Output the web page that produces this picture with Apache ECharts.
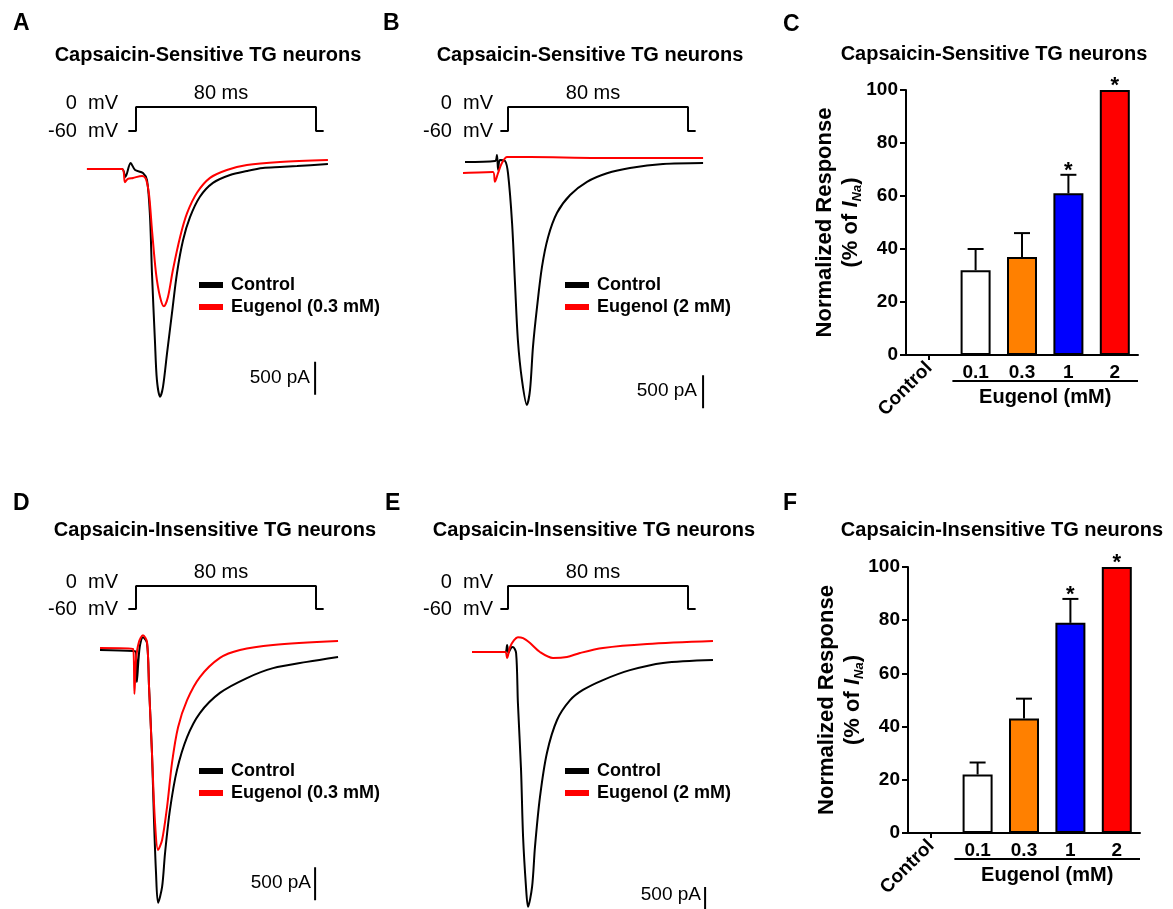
<!DOCTYPE html>
<html>
<head>
<meta charset="utf-8">
<title>Eugenol inhibits INa in TG neurons</title>
<script src="https://cdn.jsdelivr.net/npm/echarts@6.0.0/dist/echarts.min.js"></script>
<style>
  html, body { margin: 0; padding: 0; background: #fff; }
  #chart { width: 1173px; height: 909px; }
</style>
</head>
<body>
<div id="chart"></div>
<script>
// ---------- data (time in ms from step onset, current in pA) ----------
const stepT = [-3.4, 0, 0, 80, 80, 83.4];
const stepV = [-60, -60, 0, 0, -60, -60];

// A: capsaicin-sensitive, 0.3 mM
const traceACtrl = [[-21.8,0],[-6.2,0],[-4.7,-120],[-2.4,90],[-0.4,-15],[3.1,-60],[4.9,-170],[6.2,-700],[7.1,-1580],[8.4,-2590],[9.3,-3200],[10.7,-3450],[12.0,-3300],[13.8,-2790],[16.0,-2180],[18.2,-1580],[20.9,-1080],[24.0,-730],[28.4,-420],[34.2,-210],[41.8,-90],[49.3,-30],[56.4,15],[64.0,30],[71.6,45],[85.3,75]];
const traceAEug = [[-21.8,0],[-6.2,0],[-4.9,-200],[-3.6,-150],[-1.3,-135],[2.7,-105],[4.4,-150],[5.8,-390],[7.1,-920],[8.9,-1580],[10.7,-1940],[12.4,-2080],[14.2,-1940],[16.4,-1530],[19.6,-1030],[22.7,-670],[27.1,-360],[32.9,-135],[40.4,-15],[49.3,60],[64.0,105],[85.3,135]];
// B: capsaicin-sensitive, 2 mM
const traceBCtrl = [[-19.1,0],[-5.8,15],[-4.9,105],[-4.4,-120],[-3.6,30],[-1.3,15],[0,-170],[1.8,-920],[3.1,-1830],[4.4,-2700],[6.2,-3300],[8.4,-3680],[9.8,-3450],[11.1,-2800],[12.9,-2200],[15.1,-1590],[17.8,-1140],[21.8,-770],[27.6,-500],[35.1,-300],[44.0,-170],[54.2,-90],[68.9,-30],[86.7,-15]];
const traceBEug = [[-20,-165],[-6.7,-150],[-5.8,-300],[-4.4,-165],[-2.7,-15],[-0.4,75],[9.8,75],[39.6,60],[86.7,60]];
// D: capsaicin-insensitive, 0.3 mM
const traceDCtrl = [[-16,0],[-1.3,-15],[0,-30],[0.4,-485],[1.1,-150],[1.8,75],[3.1,195],[4.9,105],[5.8,-560],[7.1,-1560],[8.0,-2580],[8.9,-3380],[9.8,-3830],[11.6,-3590],[12.9,-3080],[15.1,-2420],[18.2,-1820],[22.7,-1320],[28.4,-955],[37.3,-650],[49.3,-425],[60.9,-275],[76.0,-180],[89.8,-105]];
const traceDEug = [[-16,30],[-1.3,15],[-0.7,-665],[0,-150],[1.3,120],[3.1,225],[4.9,120],[5.8,-560],[7.1,-1560],[8.4,-2580],[9.8,-3030],[11.6,-2880],[13.8,-2380],[16.0,-1710],[18.7,-1170],[22.7,-760],[28.4,-410],[37.3,-120],[46.2,0],[60.9,75],[89.8,135]];
// E: capsaicin-insensitive, 2 mM
const traceECtrl = [[-16,0],[-1.3,0],[-0.4,105],[0.2,-15],[1.3,60],[2.2,75],[3.6,-15],[4.4,-770],[5.8,-1790],[6.7,-2800],[8.0,-3560],[8.9,-3860],[10.7,-3560],[12.0,-2950],[14.2,-2200],[17.3,-1530],[21.8,-1030],[27.6,-730],[33.3,-575],[42.2,-425],[54.2,-275],[68.9,-165],[91.1,-120]];
const traceEEug = [[-16,0],[-1.3,0],[-0.4,-90],[0.9,75],[2.7,180],[4.4,225],[6.7,210],[9.8,135],[14.2,0],[20.0,-90],[26.2,-75],[32.0,-15],[42.2,60],[61.8,120],[91.1,165]];

// 500 pA scale bars
const scaleA = [[79.6,-2920],[79.6,-3420]];
const scaleB = [[86.7,-3230],[86.7,-3730]];
const scaleD = [[79.6,-3290],[79.6,-3790]];
const scaleE = [[87.6,-3560],[87.6,-4060]];

// bar charts (% of INa)
const doses = ['Control', '0.1', '0.3', '1', '2'];
const barColors = ['#ffffff', '#ffffff', '#ff8000', '#0000ff', '#ff0000'];
const sensMean = [null, 32, 37, 61, 100];
const sensSem = [null, 8, 9, 7, 0];
const sensStars = ['', '', '', '*', '*'];
const insMean = [null, 22, 43, 79, 100];
const insSem = [null, 4.5, 7.5, 9, 0];
const insStars = ['', '', '', '*', '*'];

// ---------- layout ----------
const W = 1173, H = 909;
const FONT = '"Liberation Sans", Arial, Helvetica, sans-serif';
const NARROW = '"Liberation Sans Narrow", "Liberation Sans", Arial, sans-serif';
const PX_MS = 2.25, PX_PA = 0.066;
const T_MIN = -22, T_MAX = 92, I_MIN = -4400, I_MAX = 600;

const tracePanels = [
  { onset: 136, base: 169, protoTop: 107, protoH: 24, ctrl: traceACtrl, eug: traceAEug, bar: scaleA,
    eugName: 'Eugenol (0.3 mM)', legend: [199, 276], mvRight: 118, sbLabel: [310, 378] },
  { onset: 508, base: 162, protoTop: 107, protoH: 24, ctrl: traceBCtrl, eug: traceBEug, bar: scaleB,
    eugName: 'Eugenol (2 mM)', legend: [565, 276], mvRight: 493, sbLabel: [697, 391] },
  { onset: 136, base: 650, protoTop: 586, protoH: 23, ctrl: traceDCtrl, eug: traceDEug, bar: scaleD,
    eugName: 'Eugenol (0.3 mM)', legend: [199, 762], mvRight: 118, sbLabel: [311, 883] },
  { onset: 508, base: 652, protoTop: 586, protoH: 23, ctrl: traceECtrl, eug: traceEEug, bar: scaleE,
    eugName: 'Eugenol (2 mM)', legend: [565, 762], mvRight: 493, sbLabel: [701, 895] }
];

const grids = [], xAxes = [], yAxes = [], series = [], legends = [], graphics = [];

function text(x, y, str, font, align) {
  graphics.push({ type: 'text', x: x, y: y, silent: true,
    style: { text: str, font: font, fill: '#000', align: align || 'left', verticalAlign: 'middle' } });
}

tracePanels.forEach(function (p, k) {
  const left = p.onset + T_MIN * PX_MS;
  const width = (T_MAX - T_MIN) * PX_MS;
  // keep the trace grid inside the canvas (echarts clamps it otherwise)
  const iMin = Math.max(I_MIN, -(H - 0.5 - p.base) / PX_PA);
  const gp = grids.length;
  grids.push({ left: left, top: p.protoTop, width: width, height: p.protoH });
  grids.push({ left: left, top: p.base - I_MAX * PX_PA, width: width, height: (I_MAX - iMin) * PX_PA });
  [gp, gp + 1].forEach(function (g) {
    xAxes.push({ gridIndex: g, type: 'value', min: T_MIN, max: T_MAX, show: false });
  });
  yAxes.push({ gridIndex: gp, type: 'value', min: -60, max: 0, show: false });
  yAxes.push({ gridIndex: gp + 1, type: 'value', min: iMin, max: I_MAX, show: false });

  const lineBase = { type: 'line', showSymbol: false, silent: true, animation: false };
  series.push(Object.assign({}, lineBase, {
    name: 'step' + k, xAxisIndex: gp, yAxisIndex: gp, color: '#000',
    lineStyle: { color: '#000', width: 2 },
    data: stepT.map(function (t, i) { return [t, stepV[i]]; })
  }));
  series.push(Object.assign({}, lineBase, {
    name: 'Control', xAxisIndex: gp + 1, yAxisIndex: gp + 1, color: '#000',
    smooth: 0.3, lineStyle: { color: '#000', width: 2 }, data: p.ctrl
  }));
  series.push(Object.assign({}, lineBase, {
    name: p.eugName, xAxisIndex: gp + 1, yAxisIndex: gp + 1, color: '#ff0000',
    smooth: 0.3, lineStyle: { color: '#ff0000', width: 2 }, data: p.eug
  }));
  series.push(Object.assign({}, lineBase, {
    name: 'scale' + k, xAxisIndex: gp + 1, yAxisIndex: gp + 1, color: '#000',
    lineStyle: { color: '#000', width: 2 }, data: p.bar
  }));

  legends.push({
    data: ['Control', p.eugName], orient: 'vertical', left: p.legend[0], top: p.legend[1],
    icon: 'rect', itemWidth: 24, itemHeight: 6, itemGap: 4, padding: 0, selectedMode: false,
    textStyle: { fontFamily: FONT, fontWeight: 'bold', fontSize: 18, color: '#000', padding: [0, 0, 0, 3] }
  });

  // protocol annotation
  text(p.mvRight, p.protoTop - 3.5, '0  mV', '20px ' + FONT, 'right');
  text(p.mvRight, p.protoTop + p.protoH + 0.5, '-60  mV', '20px ' + FONT, 'right');
  text(p.onset + 85, p.protoTop - 14, '80 ms', '20px ' + FONT, 'center');
  text(p.sbLabel[0], p.sbLabel[1], '500 pA', '19px ' + NARROW, 'right');
});

// ---------- bar charts ----------
function errRender(stars) {
  return function (params, api) {
    const i = api.value(0), m = api.value(1), e = api.value(2);
    const p0 = api.coord([i, m]), p1 = api.coord([i, m + e]);
    const st = { stroke: '#000', lineWidth: 2 };
    const ch = [];
    if (e > 0) {
      ch.push({ type: 'line', shape: { x1: p0[0], y1: p0[1], x2: p1[0], y2: p1[1] }, style: st });
      ch.push({ type: 'line', shape: { x1: p1[0] - 8, y1: p1[1], x2: p1[0] + 8, y2: p1[1] }, style: st });
    }
    if (stars[i]) {
      ch.push({ type: 'text', style: { text: stars[i], x: p1[0], y: p1[1] - 4, align: 'center',
        verticalAlign: 'middle', font: 'bold 22px ' + FONT, fill: '#000' } });
    }
    return { type: 'group', children: ch };
  };
}

const barPanels = [
  { left: 906, top: 90, width: 232, height: 265, mean: sensMean, sem: sensSem, stars: sensStars },
  { left: 908, top: 567, width: 232, height: 266, mean: insMean, sem: insSem, stars: insStars }
];

barPanels.forEach(function (b) {
  const g = grids.length;
  const xa = xAxes.length;
  const ya = yAxes.length;
  grids.push({ left: b.left, top: b.top, width: b.width, height: b.height });
  xAxes.push({
    gridIndex: g, type: 'category', data: doses,
    axisLine: { lineStyle: { color: '#000', width: 2 } }, axisTick: { show: false },
    axisLabel: { interval: 0, margin: 8, color: '#000', fontFamily: FONT, fontWeight: 'bold', fontSize: 19,
      formatter: function (v) { return v === 'Control' ? '' : v; } }
  });
  xAxes.push({
    gridIndex: g, type: 'category', data: doses, position: 'bottom',
    axisLine: { show: false },
    axisTick: { show: true, alignWithLabel: true, length: 5, interval: function (i) { return i === 0; },
      lineStyle: { color: '#000', width: 2 } },
    axisLabel: { interval: function (i) { return i === 0; }, rotate: 45, margin: 10, color: '#000',
      fontFamily: FONT, fontWeight: 'bold', fontSize: 19,
      formatter: function (v) { return v === 'Control' ? v : ''; } }
  });
  yAxes.push({
    gridIndex: g, type: 'value', min: 0, max: 100, interval: 20, splitLine: { show: false },
    axisLine: { show: true, lineStyle: { color: '#000', width: 2 } },
    axisTick: { show: true, length: 6, lineStyle: { color: '#000', width: 2 } },
    axisLabel: { margin: 8, color: '#000', fontFamily: FONT, fontWeight: 'bold', fontSize: 19 },
    name: '{a|Normalized Response}\n{a|(% of }{i|I}{s|Na}{a|)}',
    nameLocation: 'middle', nameRotate: 90, nameGap: 42, nameMoveOverlap: false,
    nameTextStyle: {
      color: '#000', fontFamily: FONT, fontWeight: 'bold', fontSize: 22, lineHeight: 26,
      rich: {
        a: { fontFamily: FONT, fontWeight: 'bold', fontSize: 22, lineHeight: 26, color: '#000' },
        i: { fontFamily: FONT, fontWeight: 'bold', fontStyle: 'italic', fontSize: 22, lineHeight: 26, color: '#000' },
        s: { fontFamily: FONT, fontWeight: 'bold', fontStyle: 'italic', fontSize: 13, lineHeight: 13,
          verticalAlign: 'bottom', color: '#000' }
      }
    }
  });
  series.push({
    type: 'bar', xAxisIndex: xa, yAxisIndex: ya, barWidth: 30, silent: true, animation: false,
    itemStyle: { borderColor: '#000', borderWidth: 2 },
    data: b.mean.map(function (v, i) { return { value: v, itemStyle: { color: barColors[i] } }; })
  });
  series.push({
    type: 'custom', xAxisIndex: xa, yAxisIndex: ya, silent: true, animation: false, z: 5,
    encode: { x: 0, y: 1 },
    renderItem: errRender(b.stars),
    data: b.mean.map(function (m, i) { return [i, m, b.sem[i]]; }).filter(function (d) { return d[1] != null; })
  });

  // "Eugenol (mM)" bracket under the dose labels
  const band = b.width / doses.length;
  const yBase = b.top + b.height;
  graphics.push({ type: 'line', silent: true,
    shape: { x1: b.left + band, y1: yBase + 26, x2: b.left + b.width, y2: yBase + 26 },
    style: { stroke: '#000', lineWidth: 2 } });
  text(b.left + band + (b.width - band) / 2, yBase + 42, 'Eugenol (mM)', 'bold 20px ' + FONT, 'center');
});

// ---------- panel letters and titles ----------
[['A', 13, 24], ['B', 383, 24], ['C', 783, 25], ['D', 13, 504], ['E', 385, 504], ['F', 783, 504]]
  .forEach(function (l) { text(l[1], l[2], l[0], 'bold 23px ' + FONT, 'left'); });
[['Capsaicin-Sensitive TG neurons', 208, 55], ['Capsaicin-Sensitive TG neurons', 590, 55],
 ['Capsaicin-Sensitive TG neurons', 994, 54], ['Capsaicin-Insensitive TG neurons', 215, 530],
 ['Capsaicin-Insensitive TG neurons', 594, 530], ['Capsaicin-Insensitive TG neurons', 1002, 530]]
  .forEach(function (t) { text(t[1], t[2], t[0], 'bold 20px ' + FONT, 'center'); });

const chart = echarts.init(document.getElementById('chart'));
chart.setOption({
  backgroundColor: '#fff',
  animation: false,
  grid: grids,
  xAxis: xAxes,
  yAxis: yAxes,
  legend: legends,
  series: series,
  graphic: graphics
});
</script>
</body>
</html>
